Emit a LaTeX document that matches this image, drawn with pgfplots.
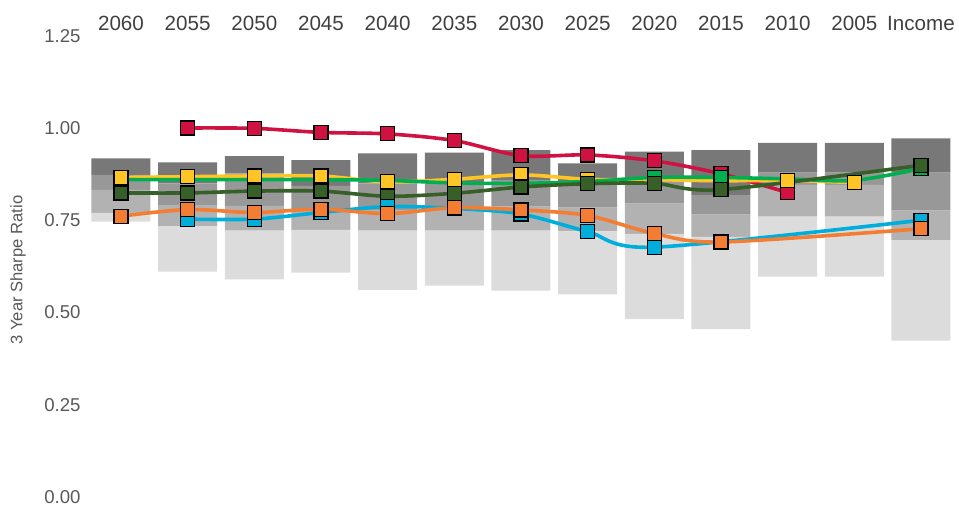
\documentclass[border=0pt]{standalone}
\usepackage{pgfplots}
\pgfplotsset{compat=1.18}
\usepackage{pgfplotstable}
\usepackage{fontspec}
\setmainfont{Liberation Sans}

\definecolor{cRed}{RGB}{208,18,67}
\definecolor{cGreen}{RGB}{0,176,80}
\definecolor{cDGreen}{RGB}{55,95,40}
\definecolor{cYellow}{RGB}{255,196,37}
\definecolor{cBlue}{RGB}{0,174,219}
\definecolor{cOrange}{RGB}{244,125,52}
\definecolor{bar1}{RGB}{220,220,220}
\definecolor{bar2}{RGB}{178,178,178}
\definecolor{bar3}{RGB}{152,152,152}
\definecolor{bar4}{RGB}{120,120,120}
\definecolor{txtx}{RGB}{64,64,64}
\definecolor{txty}{RGB}{89,89,89}

% bar boundaries: bottom, then increments (lightest, light-mid, mid, dark)
\pgfplotstableread{
x b d1 d2 d3 d4
0 0.746 0.024 0.062 0.041 0.045
1 0.611 0.123 0.057 0.059 0.057
2 0.590 0.132 0.067 0.088 0.047
3 0.608 0.116 0.054 0.065 0.070
4 0.561 0.161 0.056 0.072 0.081
5 0.573 0.149 0.058 0.070 0.083
6 0.559 0.163 0.065 0.072 0.081
7 0.549 0.171 0.064 0.066 0.054
8 0.482 0.231 0.082 0.060 0.081
9 0.455 0.250 0.060 0.053 0.122
10 0.597 0.163 0.086 0.033 0.081
11 0.597 0.163 0.086 0.033 0.081
12 0.424 0.272 0.080 0.103 0.093
}\bars

\pgfplotsset{
  ser/.style={line width=1.8pt, smooth, color=#1, mark=square*, mark size=3.5pt,
    mark options={fill=#1, draw=black, line width=0.6pt, solid}},
  common/.style={at={(43.83pt,6pt)}, anchor=south west, scale only axis,
    width=433.33pt, height=230.625pt, xmin=-0.5, xmax=12.5, ymin=0, ymax=1.25},
}

\begin{document}
\begin{tikzpicture}
\path[use as bounding box] (0,0) rectangle (479.5pt,254.5pt);
\begin{axis}[common,
  ybar stacked, bar width=0.885,
  axis line style={draw=none}, major tick length=0pt,
  xtick={0,1,2,3,4,5,6,7,8,9,10,11,12},
  xticklabels={2060,2055,2050,2045,2040,2035,2030,2025,2020,2015,2010,2005,Income},
  xticklabel pos=upper,
  xticklabel style={anchor=base, yshift=2.4pt, inner sep=0pt, text=txtx, font=\fontsize{10.3}{12}\selectfont},
  ytick={0,0.25,0.5,0.75,1,1.25},
  yticklabel style={anchor=east, inner sep=0pt, xshift=-3.35pt, text=txty, font=\fontsize{9.3}{11}\selectfont,
    /pgf/number format/.cd, fixed, fixed zerofill, precision=2, assume math mode=true},
  ylabel={3 Year Sharpe Ratio},
  every axis y label/.style={at={(axis description cs:-0.0804,0.492)}, rotate=90, anchor=center,
    text=txty, font=\fontsize{8.3}{10}\selectfont},
  grid=none,
]
\addplot[draw=none, fill=none] table[x=x, y=b] {\bars};
\addplot[draw=none, fill=bar1] table[x=x, y=d1] {\bars};
\addplot[draw=none, fill=bar2] table[x=x, y=d2] {\bars};
\addplot[draw=none, fill=bar3] table[x=x, y=d3] {\bars};
\addplot[draw=none, fill=bar4] table[x=x, y=d4] {\bars};
\end{axis}

\begin{axis}[common, hide axis, clip=false]
% red
\addplot[ser=cRed] coordinates {(1,1.000) (2,0.999) (3,0.988) (4,0.984) (5,0.966) (6,0.925) (7,0.927) (8,0.911) (9,0.876) (10,0.825)};
% yellow
\addplot[ser=cYellow] coordinates {(0,0.866) (1,0.868) (2,0.870) (3,0.870) (4,0.854) (5,0.861) (6,0.873) (7,0.861) (8,0.860) (9,0.857) (10,0.858) (11,0.852)};
% green
\addplot[ser=cGreen, mark indices={9,10,13}] coordinates {(0,0.860) (1,0.860) (2,0.860) (3,0.860) (4,0.858) (5,0.851) (6,0.850) (7,0.855) (8,0.866) (9,0.866) (10,0.862) (11,0.858) (12,0.890)};
% dark green
\addplot[ser=cDGreen] coordinates {(0,0.824) (1,0.824) (2,0.829) (3,0.829) (4,0.815) (5,0.823) (6,0.840) (7,0.849) (8,0.850) (9,0.833) (12,0.899)};
% blue
\addplot[ser=cBlue] coordinates {(1,0.753) (2,0.753) (3,0.771) (4,0.787) (5,0.782) (6,0.767) (7,0.719) (8,0.677) (12,0.750)};
% orange
\addplot[ser=cOrange] coordinates {(0,0.761) (1,0.779) (2,0.771) (3,0.780) (4,0.768) (5,0.784) (6,0.778) (7,0.763) (8,0.714) (9,0.691) (12,0.727)};
\end{axis}
\end{tikzpicture}
\end{document}
